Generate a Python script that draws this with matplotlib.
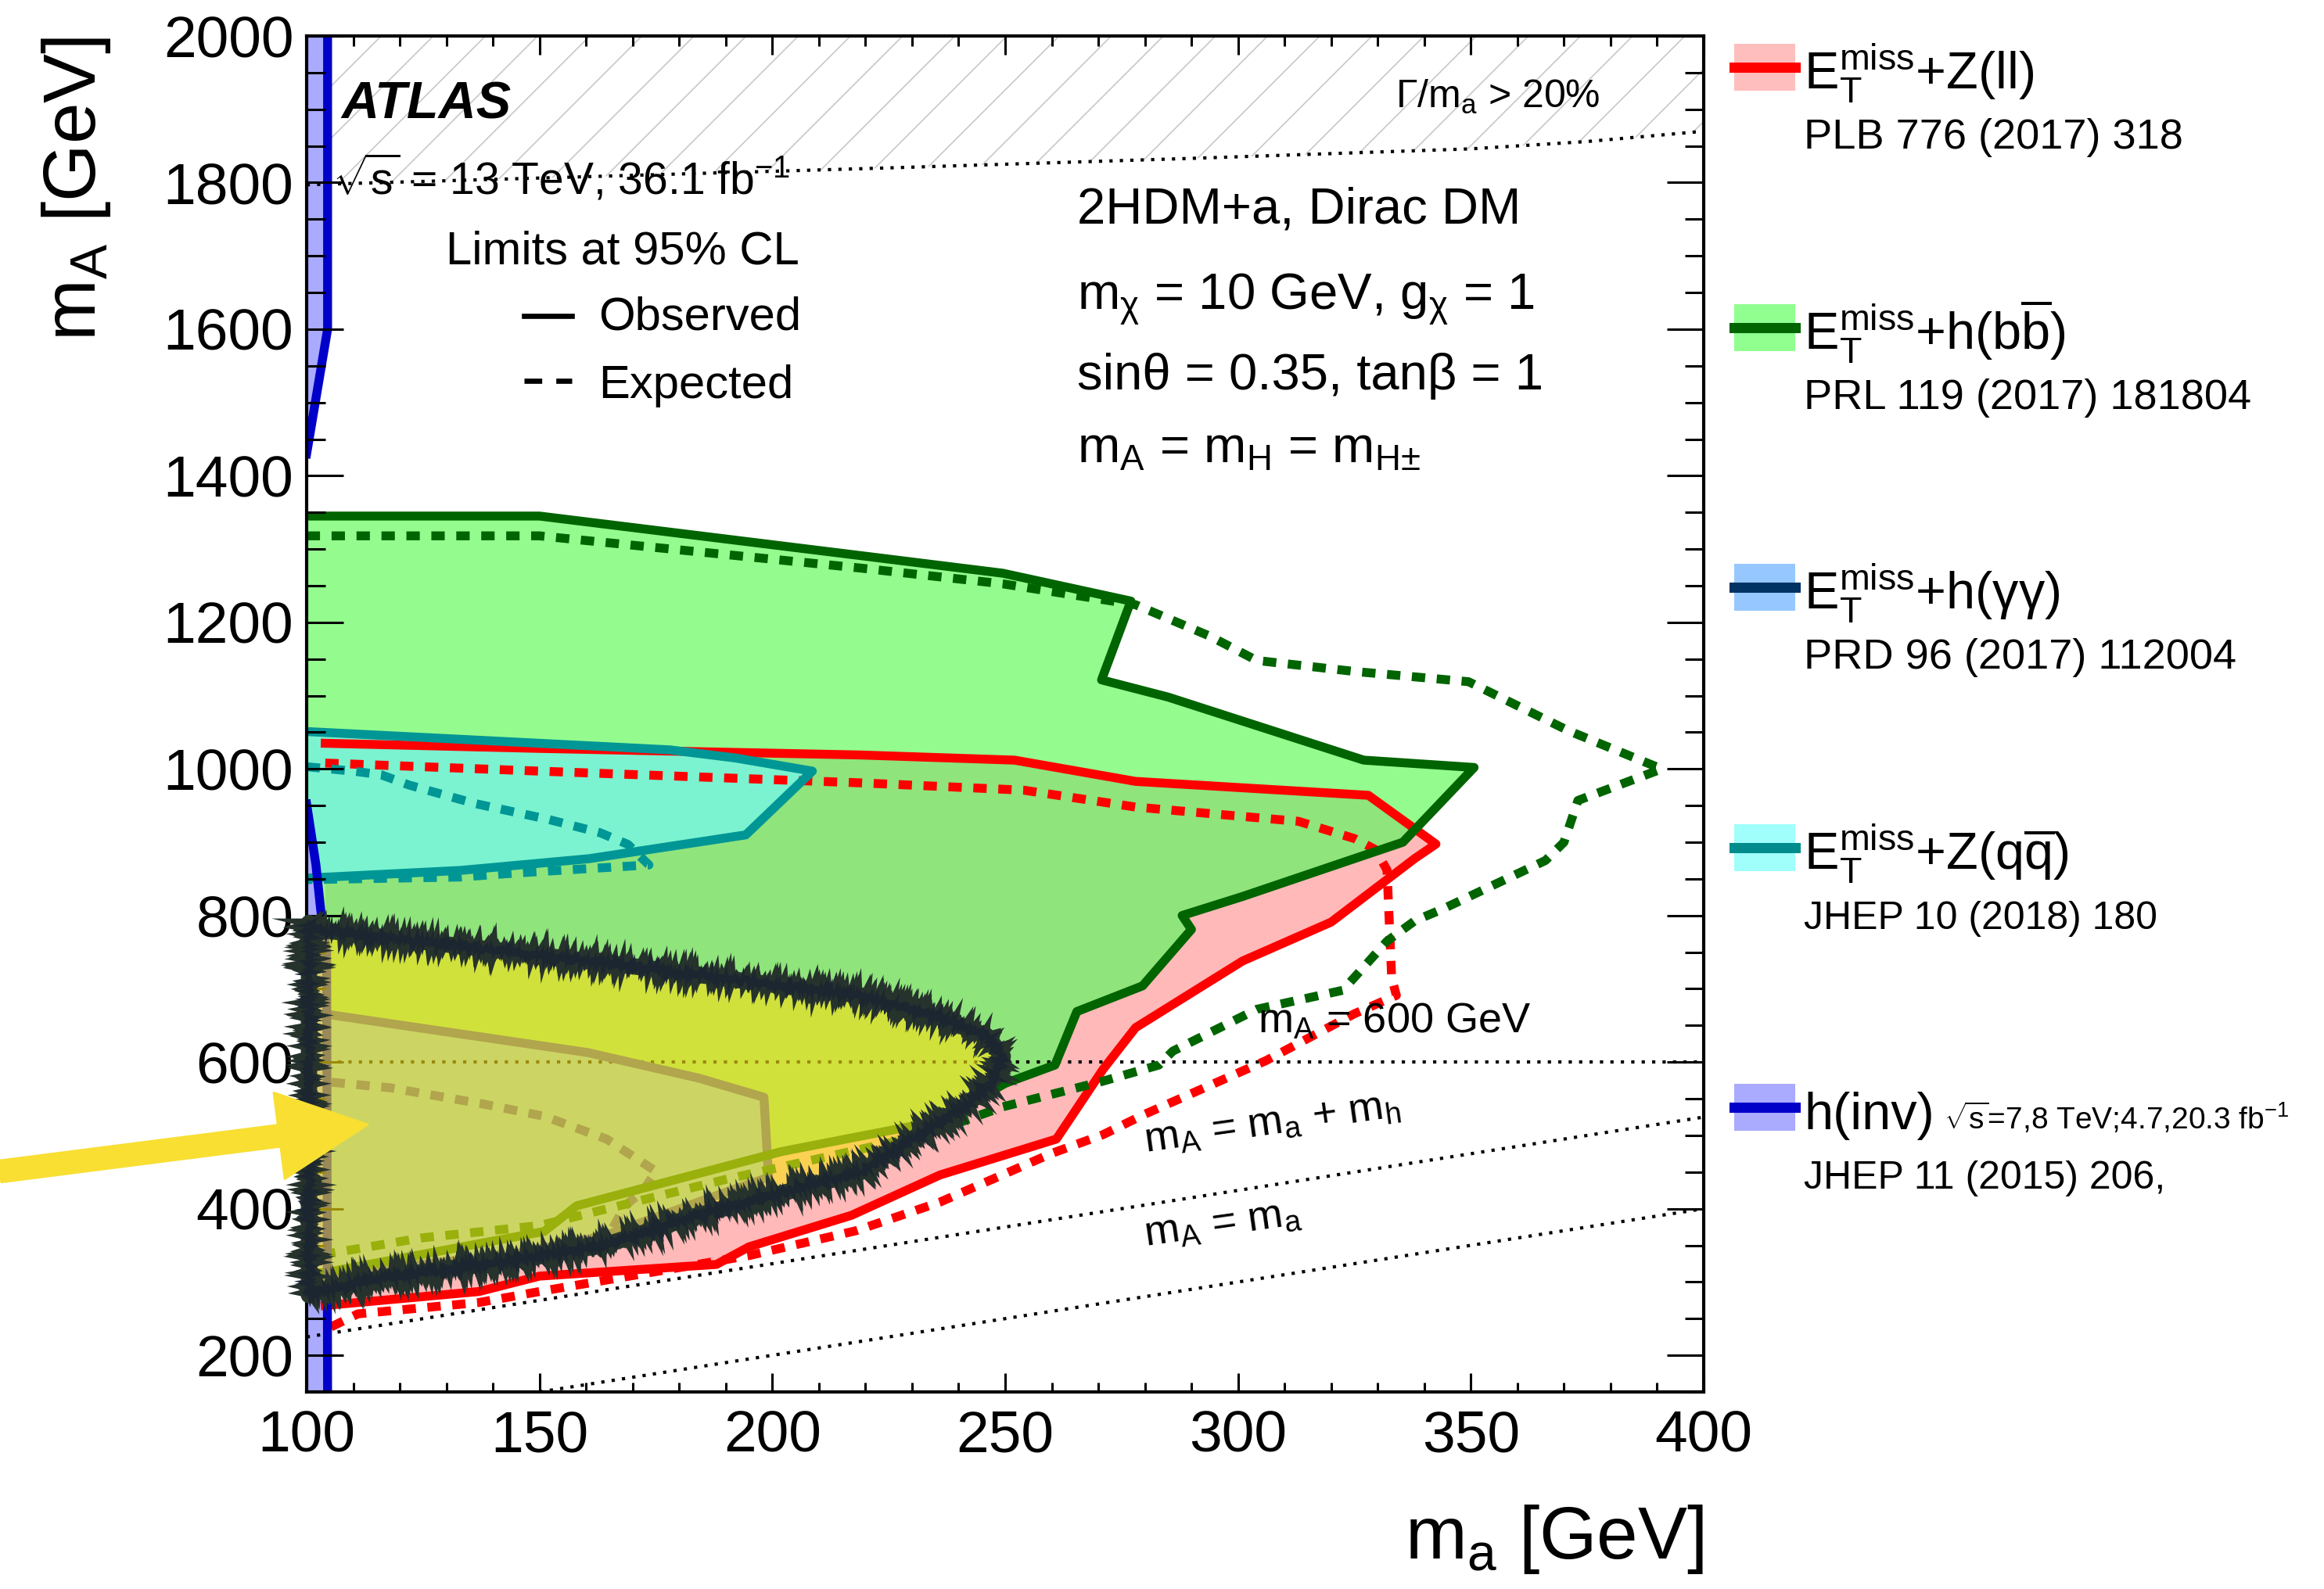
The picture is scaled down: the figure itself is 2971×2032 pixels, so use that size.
import matplotlib
matplotlib.use('Agg')
import matplotlib.pyplot as plt
from matplotlib.patches import Polygon, Rectangle, FancyArrowPatch, ArrowStyle
from matplotlib.lines import Line2D
from matplotlib.ticker import MultipleLocator

# ---------------- data (m_a, m_A in GeV) ----------------
# E_T^miss + h(bb)
green_obs_ma = [100, 150, 219, 249.5, 277, 270.7, 285, 327, 350.7, 335.4, 301, 288, 290, 279.5,
                265.4, 260.7, 250, 236, 202, 158, 151, 105, 100]
green_obs_mA = [1345, 1345, 1291, 1267, 1229, 1121.5, 1098, 1012, 1002, 900, 826, 800, 781, 704,
                669, 596, 571, 520, 478, 404, 369, 314, 310]
green_exp_ma = [100, 150, 219, 249.5, 278, 294, 304, 325, 349.5, 371, 391, 373, 370, 366, 344, 338,
                332, 322.5, 304, 286, 283, 271, 249.5, 233, 190, 150, 124.5, 106, 100]
green_exp_mA = [1318, 1318, 1274, 1252.5, 1224, 1181, 1148, 1133, 1119, 1052, 1000, 957, 900, 875,
                809, 793, 765, 698, 672, 615, 596, 574, 539, 501, 440, 377, 360, 340, 338]
# E_T^miss + Z(ll)
red_obs_ma = [104, 150, 219, 252, 278, 328, 342.5, 338, 320, 301, 278, 271, 261, 236, 217, 195, 188,
              150, 137, 111, 104]
red_obs_mA = [1035, 1028, 1019, 1012, 983, 964, 897.5, 878, 791, 738, 647, 590, 495, 446, 391, 348,
              324, 308, 287, 272, 268]
red_exp_ma = [104, 150, 219, 254, 278, 313, 325, 329.5, 332, 333, 334, 325, 306, 280, 271, 260, 236,
              218, 195, 150, 137, 111, 105]
red_exp_mA = [1008, 997, 981, 971, 948, 928.5, 905, 890, 862, 715, 691, 666, 602, 529, 501, 475.5,
              409, 370, 336, 287, 272, 256.5, 238]
# E_T^miss + Z(qq)
cyan_obs_ma = [100, 178, 192, 208.6, 194.3, 160.6, 133, 100]
cyan_obs_mA = [1051, 1026, 1015, 997, 910, 877.5, 861.5, 851]
cyan_exp_ma = [100, 110, 116, 122, 136, 152, 163, 169, 173.5, 145, 133, 100]
cyan_exp_mA = [1003, 997, 992, 978, 953, 931, 913, 897, 869, 858, 852.5, 849]
# E_T^miss + h(gamma gamma)
gg_obs_ma = [100, 104.6, 160.4, 184.3, 198.2, 199.2, 187.6, 164.4, 144.5, 104.6, 100]
gg_obs_mA = [665, 665, 613, 578, 552, 443, 417, 364, 338, 310, 310]
gg_exp_ma = [100, 104.6, 117.9, 137.8, 151.1, 164.4, 175, 172.3, 168.3, 165.7, 164]
gg_exp_mA = [574, 573, 565, 543, 526, 495, 451, 425, 403.5, 373, 345]
# h(inv)
hinv_up_ma = [100, 104.5, 104.5]
hinv_up_mA = [1430, 1600, 2000]
hinv_lo_ma = [100, 102, 103, 104.3, 104.5]
hinv_lo_mA = [952, 869, 809, 749, 150]
# reference lines
gamma_ma = [100, 160, 225, 290, 350, 375, 400]
gamma_mA = [1797, 1808, 1820, 1833, 1846, 1856, 1870]
line600_ma = [100, 400]
line600_mA = [600, 600]
line_mh_ma = [100, 400]
line_mh_mA = [225, 525]
line_eq_ma = [150, 400]
line_eq_mA = [150, 400]
# highlight (yellow, hand drawn)
scrib_ma = [100.5, 102, 144.5, 171, 202, 219, 236.5, 246, 249.5, 247.6, 242.4, 233, 219, 202, 184,
            164.4, 144.5, 118, 102, 100.5]
scrib_mA = [790, 781, 750, 730, 704, 691, 660, 636, 608, 577, 545, 507, 450, 421, 391, 351, 329,
            308, 286, 282]

x_ticks = [100, 150, 200, 250, 300, 350, 400]
y_ticks = [200, 400, 600, 800, 1000, 1200, 1400, 1600, 1800, 2000]

legend_labels = [r"E$_\mathregular{T}^\mathregular{miss}$+Z(ll)",
                 r"E$_\mathregular{T}^\mathregular{miss}$+h(b$\overline{\mathregular{b}}$)",
                 r"E$_\mathregular{T}^\mathregular{miss}$+h(γγ)",
                 r"E$_\mathregular{T}^\mathregular{miss}$+Z(q$\overline{\mathregular{q}}$)",
                 "h(inv)"]
legend_refs = ["PLB 776 (2017) 318", "PRL 119 (2017) 181804", "PRD 96 (2017) 112004",
               "JHEP 10 (2018) 180", "JHEP 11 (2015) 206,"]
legend_fill = ['#FFBEBE', '#90FF90', '#96C8FF', '#A0FFFA', '#AAAAFF']
legend_line = ['#FF0000', '#006400', '#003264', '#008C8C', '#0000C8']

# ---------------- style ----------------
W, H, DPI = 2971, 2032, 200
plt.rcParams['font.family'] = ['Liberation Sans', 'DejaVu Sans']
plt.rcParams['mathtext.fontset'] = 'custom'
plt.rcParams['mathtext.rm'] = 'Liberation Sans'
plt.rcParams['mathtext.it'] = 'Liberation Sans:italic'
plt.rcParams['mathtext.bf'] = 'Liberation Sans:bold'
plt.rcParams['mathtext.sf'] = 'Liberation Sans'
plt.rcParams['hatch.linewidth'] = 0.6
plt.rcParams['hatch.color'] = '#c8c8c8'

GREEN_FILL = '#94FC8E'
OVERLAP = '#8FE47C'
PINK = '#FFB9B9'
CYAN_FILL = '#7BF3D0'
GG_FILL = '#82C4E6'
HINV_FILL = '#AAAAFF'
LW = 4.1
DASH = (0, (1.5, 1.3))
DOT = (0, (1.0, 2.2))


def fx(px):
    return px / W


def fy(py):
    return 1 - py / H


fig = plt.figure(figsize=(W / DPI, H / DPI), dpi=DPI)
ax = fig.add_axes([fx(392), fy(1780), fx(2178) - fx(392), fy(46) - fy(1780)])
ax.set_xlim(100, 400)
ax.set_ylim(150, 2000)

# hatched region
ax.fill_between(gamma_ma, gamma_mA, 2000, facecolor='none', edgecolor='#c8c8c8',
                hatch='/', linewidth=0, zorder=1)

# fills
green_patch = ax.fill(green_obs_ma, green_obs_mA, facecolor=GREEN_FILL, edgecolor='none', zorder=2)[0]
ax.fill(red_obs_ma, red_obs_mA, facecolor=PINK, edgecolor='none', zorder=2.1)
ov = ax.fill(red_obs_ma, red_obs_mA, facecolor=OVERLAP, edgecolor='none', zorder=2.2)[0]
ov.set_clip_path(green_patch)
ax.fill(cyan_obs_ma, cyan_obs_mA, facecolor=CYAN_FILL, edgecolor='none', zorder=2.5)
ax.fill(gg_obs_ma, gg_obs_mA, facecolor=GG_FILL, edgecolor='none', zorder=2.6)
ax.fill_betweenx(hinv_up_mA, 100, hinv_up_ma, facecolor=HINV_FILL, edgecolor='none', zorder=2.7)
ax.fill_betweenx(hinv_lo_mA, 100, hinv_lo_ma, facecolor=HINV_FILL, edgecolor='none', zorder=2.7)

# reference dotted lines
for xs, ys in [(gamma_ma, gamma_mA), (line600_ma, line600_mA), (line_mh_ma, line_mh_mA),
               (line_eq_ma, line_eq_mA)]:
    ax.plot(xs, ys, color='black', lw=1.5, linestyle=DOT, zorder=3)

# contours
ax.plot(gg_obs_ma, gg_obs_mA, color='#3C46AA', lw=LW, zorder=4)
ax.plot(gg_exp_ma, gg_exp_mA, color='#3C46AA', lw=LW, linestyle=DASH, zorder=4)
ax.plot(red_obs_ma, red_obs_mA, color='#FF0000', lw=LW, zorder=4.1)
ax.plot(red_exp_ma, red_exp_mA, color='#FF0000', lw=LW, linestyle=DASH, zorder=4.1)
ax.plot(green_obs_ma, green_obs_mA, color='#006400', lw=LW, zorder=4.2)
ax.plot(green_exp_ma, green_exp_mA, color='#006400', lw=LW, linestyle=DASH, zorder=4.2)
ax.plot(cyan_obs_ma, cyan_obs_mA, color='#009696', lw=LW, zorder=4.3)
ax.plot(cyan_exp_ma, cyan_exp_mA, color='#009696', lw=LW, linestyle=DASH, zorder=4.3)
ax.plot(hinv_up_ma, hinv_up_mA, color='#0000C8', lw=LW, zorder=5)
ax.plot(hinv_lo_ma, hinv_lo_mA, color='#0000C8', lw=LW, zorder=5)

# line labels
ax.text(304.2, 640, r"m$_\mathregular{A}$ = 600 GeV", fontsize=19.5, va='baseline', zorder=6)
ax.text(280.1, 478, r"m$_\mathregular{A}$ = m$_\mathregular{a}$ + m$_\mathregular{h}$", fontsize=19.5,
        va='baseline', ha='left', rotation=8, rotation_mode='anchor', zorder=6)
ax.text(280.1, 350, r"m$_\mathregular{A}$ = m$_\mathregular{a}$", fontsize=19.5,
        va='baseline', ha='left', rotation=8, rotation_mode='anchor', zorder=6)

# yellow highlight and hand drawn outline
ax.fill(scrib_ma, scrib_mA, facecolor=(0.98, 0.88, 0.08), alpha=0.62, edgecolor='none', zorder=7)
outline = Polygon(list(zip(scrib_ma, scrib_mA)), closed=True, facecolor='none',
                  edgecolor='#2A382C', lw=7.5, zorder=8, clip_on=False, joinstyle='round')
ax.add_patch(outline)
for lw_o, col, sk in [(4.0, '#26322C', (3.0, 2.0, 2.0)), (2.0, '#1C2630', (4.5, 1.5, 3.0))]:
    rough = Polygon(list(zip(scrib_ma, scrib_mA)), closed=True, facecolor='none',
                    edgecolor=col, lw=lw_o, zorder=8, clip_on=False)
    rough.set_sketch_params(scale=sk[0], length=sk[1], randomness=sk[2])
    ax.add_patch(rough)

# axes styling
ax.xaxis.set_major_locator(MultipleLocator(50))
ax.xaxis.set_minor_locator(MultipleLocator(10))
ax.yaxis.set_major_locator(MultipleLocator(200))
ax.yaxis.set_minor_locator(MultipleLocator(50))
ax.set_xticks(x_ticks)
ax.set_yticks(y_ticks)
ax.tick_params(which='both', direction='in', top=True, right=True, width=1.1, labelsize=27)
ax.tick_params(axis='x', which='major', length=8.5, pad=8)
ax.tick_params(axis='x', which='minor', length=4.5)
ax.tick_params(axis='y', which='major', length=17, pad=6)
ax.tick_params(axis='y', which='minor', length=8.5)
ax.xaxis.set_zorder(6.5)
ax.yaxis.set_zorder(6.5)
for s in ax.spines.values():
    s.set_linewidth(1.5)
    s.set_zorder(6.5)

# axis titles
fig.text(fx(2178), fy(1993), r"m$_\mathregular{a}$ [GeV]", fontsize=34, ha='right', va='baseline')
fig.text(fx(97), fy(47), r"m$_\mathregular{A}$ [GeV]", fontsize=34, ha='center', va='top', rotation=90)

# annotations inside the plot
fig.text(fx(436), fy(152), "ATLAS", fontsize=24, fontweight='bold', fontstyle='italic', va='baseline')
fig.text(fx(425), fy(248), r"$\sqrt{\mathregular{s}}$ = 13 TeV, 36.1 fb$^\mathregular{-1}$",
         fontsize=20.5, va='baseline')
fig.text(fx(570), fy(337), "Limits at 95% CL", fontsize=21.5, va='baseline')
fig.text(fx(765), fy(422), "Observed", fontsize=21.5, va='baseline')
fig.text(fx(765), fy(509), "Expected", fontsize=21.5, va='baseline')
fig.add_artist(Line2D([fx(670), fx(731)], [fy(404), fy(404)], color='black', lw=2.4,
                      transform=fig.transFigure))
fig.add_artist(Line2D([fx(670), fx(731)], [fy(487), fy(487)], color='black', lw=2.4,
                      linestyle=(0, (3.4, 2.7)), transform=fig.transFigure))

fig.text(fx(1377), fy(286), "2HDM+a, Dirac DM", fontsize=23.5, va='baseline')
fig.text(fx(1377), fy(397), r"m$_\mathregular{\chi}$ = 10 GeV, g$_\mathregular{\chi}$ = 1",
         fontsize=23.5, va='baseline')
fig.text(fx(1377), fy(498), "sinθ = 0.35, tanβ = 1", fontsize=23.5, va='baseline')
fig.text(fx(1377), fy(592), r"m$_\mathregular{A}$ = m$_\mathregular{H}$ = m$_\mathregular{H±}$",
         fontsize=23.5, va='baseline')
fig.text(fx(1784), fy(138), r"Γ/m$_\mathregular{a}$ > 20%", fontsize=18, va='baseline')

# right-hand legend
centers = [86, 419, 751, 1084, 1416]
for lab, ref, fc, lc, yc in zip(legend_labels, legend_refs, legend_fill, legend_line, centers):
    fig.add_artist(Rectangle((fx(2217), fy(yc + 30)), fx(2295) - fx(2217), 60 / H,
                             facecolor=fc, edgecolor='none', transform=fig.transFigure))
    fig.add_artist(Line2D([fx(2217), fx(2295)], [fy(yc), fy(yc)], color=lc, lw=4.7,
                          transform=fig.transFigure))
    fig.text(fx(2306), fy(yc + 28), lab, fontsize=24, va='baseline')
    fig.text(fx(2306), fy(yc + 104), ref, fontsize=19.5 if not ref.startswith('JHEP') else 18,
             va='baseline')
fig.text(fx(2485), fy(1444), r"$\sqrt{\mathregular{s}}$=7,8 TeV;4.7,20.3 fb$^\mathregular{-1}$",
         fontsize=14, va='baseline')

# yellow arrow
arrow = FancyArrowPatch((fx(0), fy(1498)), (fx(470), fy(1438)), transform=fig.transFigure,
                        arrowstyle=ArrowStyle.Simple(head_length=0.41, head_width=0.40, tail_width=0.10),
                        mutation_scale=100, color='#F8DF32', shrinkA=0, shrinkB=0, zorder=10)
fig.add_artist(arrow)

fig.savefig('out.png', dpi=DPI, facecolor='white')
